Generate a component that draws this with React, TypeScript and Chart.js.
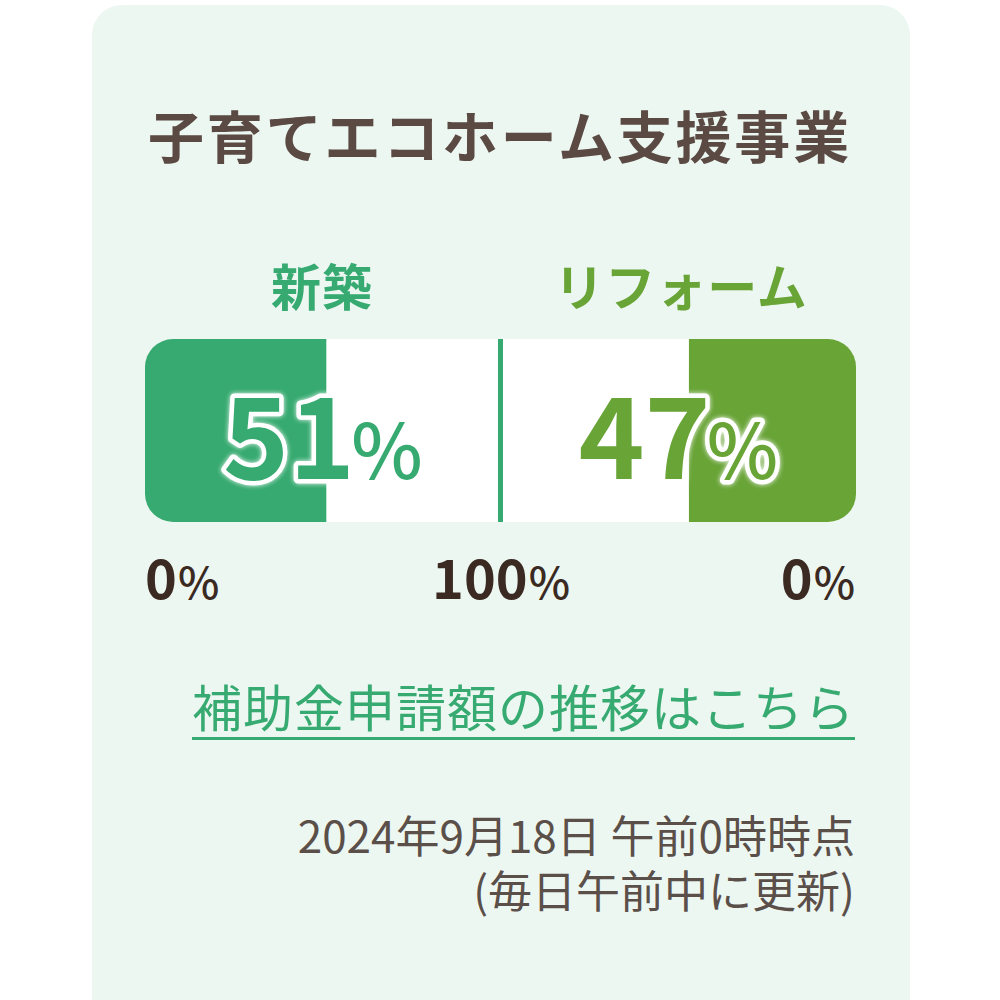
import React, { useEffect, useRef } from "react";
import { Chart, registerables } from "chart.js";

Chart.register(...registerables);

// ---- data ----
const titleText = "子育てエコホーム支援事業";
const categories = ["新築", "リフォーム"];
const values = [51, 47]; // percent
const tickLabels = ["0", "100", "0"];
const tickUnit = "%";
const linkText = "補助金申請額の推移はこちら";
const dateLines = ["2024年9月18日 午前0時時点", "(毎日午前中に更新)"];
const scaleMax = 100;

// ---- styles ----
const GREEN = "#36aa70";
const OLIVE = "#69a437";
const BROWN = "#5a4a43";
const DARK = "#3a2a22";
const CARD_BG = "#edf7f2";
const FONT = '"Noto Sans CJK JP", "Noto Sans", sans-serif';

const valueTextPlugin = {
  id: "valueText",
  afterDatasetsDraw(chart: any) {
    const ctx = chart.ctx;
    const xs = chart.scales.x;
    const area = chart.chartArea;
    const mid = xs.getPixelForValue(0);
    // divider
    ctx.save();
    ctx.strokeStyle = GREEN;
    ctx.lineWidth = 5;
    ctx.beginPath();
    ctx.moveTo(mid, area.top);
    ctx.lineTo(mid, area.bottom);
    ctx.stroke();
    ctx.restore();

    const centers = [
      (xs.getPixelForValue(-scaleMax) + mid) / 2,
      (xs.getPixelForValue(scaleMax) + mid) / 2,
    ];
    const colors = [GREEN, OLIVE];
    const baseline = (area.top + area.bottom) / 2 + 48;
    values.forEach((v, i) => {
      const numFont = `bold 112px ${FONT}`;
      const pctFont = `500 76px ${FONT}`;
      ctx.save();
      ctx.font = numFont;
      const numStr = String(v);
      const wNum = ctx.measureText(numStr).width;
      ctx.font = pctFont;
      const wPct = ctx.measureText(tickUnit).width;
      const gap = -4;
      const total = wNum + gap + wPct;
      const x0 = centers[i] - total / 2;
      ctx.textBaseline = "alphabetic";
      ctx.textAlign = "left";
      const parts: [string, string, number][] = [
        [numStr, numFont, x0],
        [tickUnit, pctFont, x0 + wNum + gap],
      ];
      parts.forEach(([s, f, x]) => {
        ctx.font = f;
        ctx.save();
        ctx.lineJoin = "round";
        ctx.strokeStyle = "#ffffff";
        ctx.lineWidth = 9;
        ctx.shadowColor = "rgba(255,255,255,0.95)";
        ctx.shadowBlur = 5;
        ctx.strokeText(s, x, baseline);
        ctx.restore();
        ctx.fillStyle = colors[i];
        ctx.fillText(s, x, baseline);
      });
      ctx.restore();
    });
  },
};

function BarChart() {
  const ref = useRef<HTMLCanvasElement | null>(null);
  useEffect(() => {
    if (!ref.current) return;
    const R = 28;
    const chart = new Chart(ref.current, {
      type: "bar",
      data: {
        labels: ["申請状況"],
        datasets: [
          {
            label: categories[0],
            data: [[-scaleMax, -scaleMax + values[0]]] as any,
            backgroundColor: GREEN,
            borderRadius: { topLeft: R, bottomLeft: R, topRight: 0, bottomRight: 0 },
            order: 0,
          },
          {
            label: categories[1],
            data: [[scaleMax - values[1], scaleMax]] as any,
            backgroundColor: OLIVE,
            borderRadius: { topLeft: 0, bottomLeft: 0, topRight: R, bottomRight: R },
            order: 0,
          },
          {
            label: categories[0] + "-bg",
            data: [[-scaleMax, 0]] as any,
            backgroundColor: "#ffffff",
            borderRadius: { topLeft: R, bottomLeft: R, topRight: 0, bottomRight: 0 },
            order: 1,
          },
          {
            label: categories[1] + "-bg",
            data: [[0, scaleMax]] as any,
            backgroundColor: "#ffffff",
            borderRadius: { topLeft: 0, bottomLeft: 0, topRight: R, bottomRight: R },
            order: 1,
          },
        ],
      },
      options: {
        indexAxis: "y",
        animation: false,
        responsive: false,
        devicePixelRatio: 1,
        layout: { padding: 0 },
        datasets: {
          bar: {
            grouped: false,
            barPercentage: 1,
            categoryPercentage: 1,
            borderSkipped: false,
            inflateAmount: 0,
          } as any,
        },
        scales: {
          x: { type: "linear", min: -scaleMax, max: scaleMax, display: false },
          y: { display: false },
        },
        plugins: { legend: { display: false }, tooltip: { enabled: false }, title: { display: false } },
      },
      plugins: [valueTextPlugin],
    });
    return () => chart.destroy();
  }, []);
  return (
    <canvas
      ref={ref}
      width={711}
      height={183}
      style={{ position: "absolute", left: 145, top: 339, width: 711, height: 183 }}
    />
  );
}

export default function App() {
  const tickPos: React.CSSProperties[] = [
    { left: 145 },
    { left: 501, transform: "translateX(-50%)" },
    { right: 145 },
  ];
  return (
    <div
      style={{
        position: "absolute",
        left: 0,
        top: 0,
        width: 1000,
        height: 1000,
        overflow: "hidden",
        background: "#ffffff",
        fontFamily: FONT,
      }}
    >
      <div
        style={{
          position: "absolute",
          left: 92,
          top: 5,
          width: 818,
          height: 1100,
          borderRadius: 30,
          background: CARD_BG,
        }}
      />
      <div
        style={{
          position: "absolute",
          left: 500,
          top: 106,
          transform: "translateX(-50%)",
          fontSize: 56,
          lineHeight: 1,
          fontWeight: 700,
          letterSpacing: 2.8,
          color: BROWN,
          whiteSpace: "nowrap",
        }}
      >
        {titleText}
      </div>
      {categories.map((c, i) => (
        <div
          key={c}
          style={{
            position: "absolute",
            left: i === 0 ? 322 : 681,
            top: 259,
            transform: "translateX(-50%)",
            fontSize: 50,
            lineHeight: 1,
            fontWeight: 700,
            letterSpacing: 1,
            color: i === 0 ? GREEN : OLIVE,
            whiteSpace: "nowrap",
          }}
        >
          {c}
        </div>
      ))}
      <BarChart />
      {tickLabels.map((t, i) => (
        <div
          key={i}
          style={{
            position: "absolute",
            top: 549,
            ...tickPos[i],
            fontSize: 54,
            lineHeight: 1,
            fontWeight: 700,
            color: DARK,
            whiteSpace: "nowrap",
          }}
        >
          {t}
          <span style={{ fontSize: 44, fontWeight: 500, marginLeft: 1 }}>{tickUnit}</span>
        </div>
      ))}
      <div
        style={{
          position: "absolute",
          right: 145,
          top: 680,
          fontSize: 50,
          lineHeight: 1,
          letterSpacing: 1,
          color: GREEN,
          textDecoration: "underline",
          textDecorationThickness: 3,
          textUnderlineOffset: 10,
          whiteSpace: "nowrap",
        }}
      >
        {linkText}
      </div>
      <div
        style={{
          position: "absolute",
          right: 145,
          top: 807,
          fontSize: 44,
          lineHeight: "55px",
          color: "#5b4f49",
          textAlign: "right",
          whiteSpace: "pre",
        }}
      >
        {dateLines.join("\n")}
      </div>
    </div>
  );
}
